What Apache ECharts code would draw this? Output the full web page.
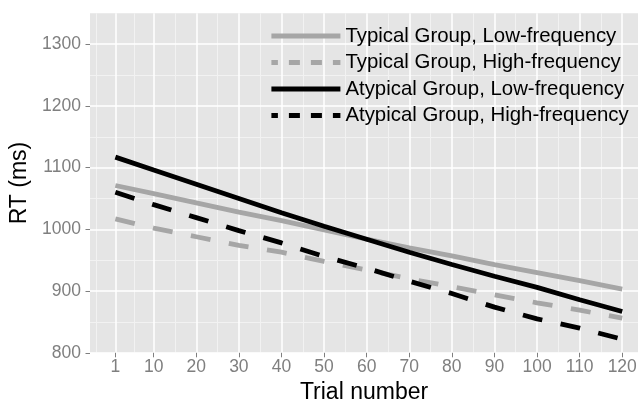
<!DOCTYPE html>
<html>
<head>
<meta charset="utf-8">
<title>RT by trial number</title>
<script src="https://cdn.jsdelivr.net/npm/echarts@6/dist/echarts.min.js"></script>
<style>
  html, body { margin: 0; padding: 0; background: #fff; }
  #chart { width: 638px; height: 403px; }
</style>
</head>
<body>
<div id="chart"></div>
<script>
// trial numbers (also the x tick labels)
var trials = [1, 10, 20, 30, 40, 50, 60, 70, 80, 90, 100, 110, 120];
var yTicks = [800, 900, 1000, 1100, 1200, 1300];

// RT (ms)
var typicalLow   = [1071, 1058, 1043, 1028, 1014, 999, 984, 970, 957, 943, 930, 917, 903];
var typicalHigh  = [1017, 1002, 988, 974, 963, 948, 934, 920, 907, 894, 881, 869, 856];
var atypicalLow  = [1117, 1096, 1073, 1050, 1027, 1005, 984, 963, 943, 924, 906, 886, 867];
var atypicalHigh = [1060, 1040, 1019, 998, 978, 956, 937, 916, 896, 874, 855, 840, 822];

var names = [
    'Typical Group, Low-frequency',
    'Typical Group, High-frequency',
    'Atypical Group, Low-frequency',
    'Atypical Group, High-frequency'
];

var font = "'Liberation Sans', Arial, sans-serif";
var grey = '#A6A6A6';

// ggplot style minor breaks: halfway between the major ones
function midpoints(ticks) {
    var out = [ticks[0] - (ticks[1] - ticks[0]) / 2];
    for (var i = 1; i < ticks.length; i++) {
        out.push((ticks[i - 1] + ticks[i]) / 2);
    }
    return out;
}

var minorLines = [];
midpoints(trials).forEach(function (v) { minorLines.push({ xAxis: v }); });
midpoints(yTicks).forEach(function (v) { if (v > 800) minorLines.push({ yAxis: v }); });

function makeLine(name, values, color, dashed) {
    return {
        name: name,
        type: 'line',
        data: trials.map(function (t, i) { return [t, values[i]]; }),
        symbol: 'none',
        z: 3,
        lineStyle: { color: color, width: 4.8, type: dashed ? [20, 18.7] : 'solid', cap: 'butt' },
        itemStyle: { color: color },
        emphasis: { disabled: true }
    };
}

var chart = echarts.init(document.getElementById('chart'));

chart.setOption({
    animation: false,
    textStyle: { fontFamily: font },
    grid: {
        left: 90, right: 0, top: 13.3, bottom: 50.2,
        outerBoundsMode: 'none',
        show: true, backgroundColor: '#E5E5E5', borderWidth: 0
    },
    legend: {
        orient: 'vertical',
        left: 269, top: 26,
        padding: 0,
        itemWidth: 69, itemHeight: 20, itemGap: 6.5, itemTextGap: 14,
        selectedMode: false,
        itemStyle: { color: 'rgba(0,0,0,0)', borderWidth: 0, opacity: 0 },
        lineStyle: { width: 4.8, cap: 'butt' },
        textStyle: { fontFamily: font, fontSize: 20.4, color: '#000', lineHeight: 20 },
        data: [
            { name: names[0] },
            { name: names[1], lineStyle: { type: [11, 11], dashOffset: 4.5 } },
            { name: names[2] },
            { name: names[3], lineStyle: { type: [11, 11], dashOffset: 4.5 } }
        ]
    },
    xAxis: {
        type: 'value',
        min: -4.95, max: 123.7,
        z: 1.5,
        name: 'Trial number',
        nameLocation: 'middle',
        nameGap: 24,
        nameTextStyle: { fontFamily: font, fontSize: 23, color: '#000' },
        axisLine: { show: false, onZero: false },
        axisTick: { show: true, length: 4.5, customValues: trials, lineStyle: { color: '#7F7F7F' } },
        axisLabel: { customValues: trials, margin: 5, fontSize: 17.5, color: '#7F7F7F', fontFamily: font },
        splitLine: { show: true, lineStyle: { color: '#FFFFFF', width: 1.5 } }
    },
    yAxis: {
        type: 'value',
        min: 800, max: 1350,
        z: 1.5,
        name: 'RT (ms)',
        nameLocation: 'middle',
        nameGap: 50,
        nameTextStyle: { fontFamily: font, fontSize: 23, color: '#000' },
        axisLine: { show: false, onZero: false },
        axisTick: { show: true, length: 4.5, customValues: yTicks, lineStyle: { color: '#7F7F7F' } },
        axisLabel: {
            customValues: yTicks, margin: 9, fontSize: 17.5, color: '#7F7F7F', fontFamily: font,
            formatter: function (v) { return String(v); }
        },
        splitLine: { show: true, lineStyle: { color: '#FFFFFF', width: 1.5 } }
    },
    series: [
        {
            name: 'minor grid',
            type: 'line',
            data: [],
            markLine: {
                silent: true,
                z: 1,
                symbol: 'none',
                label: { show: false },
                lineStyle: { color: '#F2F2F2', width: 1, type: 'solid' },
                data: minorLines
            }
        },
        makeLine(names[0], typicalLow, grey, false),
        makeLine(names[1], typicalHigh, grey, true),
        makeLine(names[2], atypicalLow, '#000000', false),
        makeLine(names[3], atypicalHigh, '#000000', true)
    ]
});
</script>
</body>
</html>
